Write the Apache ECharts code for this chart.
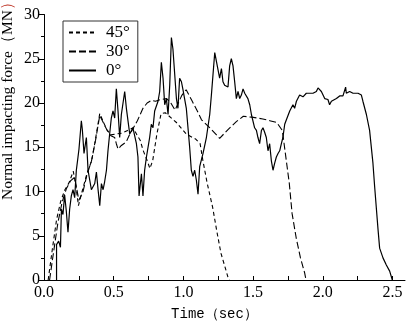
<!DOCTYPE html>
<html>
<head>
<meta charset="utf-8">
<script src="https://cdn.jsdelivr.net/npm/echarts@6/dist/echarts.min.js"></script>
<style>html,body{margin:0;padding:0;background:#fff}#c{width:406px;height:326px}</style>
</head>
<body>
<div id="c"></div>
<script>
// ---- data ----
const seriesNames = ['45°', '30°', '0°'];
const xTickLabels = [0, 0.5, 1.0, 1.5, 2.0, 2.5];
const xMinorTicks = [0, 0.25, 0.5, 0.75, 1.0, 1.25, 1.5, 1.75, 2.0, 2.25, 2.5];
const yTickLabels = [0, 5, 10, 15, 20, 25, 30];

const t45 = [0.03,0.06,0.09,0.12,0.15,0.18,0.21,0.23,0.247,0.27,0.306,0.342,0.364,0.40,0.45,0.48,0.52,0.56,0.60,0.64,0.67,0.69,0.71,0.74,0.76,0.78,0.81,0.84,0.87,0.95,1.02,1.09,1.12,1.14,1.17,1.21,1.24,1.27,1.30,1.32,1.33];
const f45 = [0,3.5,6.8,8.9,10.2,11.0,12.3,10.5,8.4,9.8,11.9,13.5,15.4,18.8,17.0,16.4,16.5,16.6,16.9,17.2,16.3,15.8,14.7,13.5,12.6,13.5,16.5,18.8,18.9,17.8,16.5,15.9,15.4,13.5,11.0,8.2,5.5,3.0,1.4,0.3,0];

const t30 = [0.04,0.07,0.10,0.13,0.16,0.19,0.22,0.25,0.28,0.31,0.34,0.37,0.40,0.45,0.48,0.507,0.519,0.531,0.555,0.567,0.59,0.61,0.67,0.71,0.74,0.77,0.80,0.84,0.88,0.91,0.94,0.99,1.02,1.06,1.10,1.13,1.19,1.26,1.32,1.38,1.43,1.49,1.57,1.62,1.67,1.71,1.73,1.76,1.78,1.81,1.84,1.87,1.88];
const f30 = [0,3.3,6.5,8.8,10.3,11.2,11.6,9.0,10.0,12.0,13.4,15.8,18.6,17.0,16.3,16.1,15.4,14.8,15.2,15.0,15.6,16.3,18.0,19.4,20.0,20.3,20.2,20.4,20.5,20.0,19.2,20.9,21.5,20.3,19.1,18.1,17.2,16.0,17.0,17.9,18.5,18.4,18.2,18.0,17.8,16.9,14.5,10.9,7.5,4.7,2.5,0.8,0];

const t0 = [0.09,0.09,0.105,0.118,0.125,0.136,0.148,0.16,0.172,0.184,0.196,0.208,0.22,0.232,0.244,0.251,0.268,0.275,0.287,0.304,0.316,0.328,0.340,0.352,0.364,0.376,0.388,0.40,0.412,0.424,0.435,0.448,0.459,0.471,0.483,0.495,0.507,0.519,0.531,0.543,0.555,0.579,0.591,0.615,0.638,0.663,0.674,0.682,0.699,0.710,0.722,0.735,0.758,0.770,0.782,0.794,0.818,0.830,0.842,0.854,0.866,0.878,0.890,0.902,0.914,0.925,0.950,0.961,0.973,0.986,0.997,1.021,1.033,1.045,1.057,1.069,1.081,1.093,1.105,1.117,1.141,1.165,1.189,1.201,1.212,1.225,1.237,1.260,1.273,1.284,1.296,1.320,1.332,1.344,1.356,1.368,1.380,1.392,1.404,1.416,1.428,1.440,1.452,1.463,1.476,1.488,1.511,1.524,1.535,1.547,1.560,1.571,1.583,1.595,1.607,1.619,1.631,1.643,1.655,1.667,1.679,1.691,1.703,1.714,1.727,1.739,1.763,1.786,1.798,1.811,1.834,1.858,1.882,1.930,1.954,1.966,1.990,2.014,2.037,2.049,2.062,2.098,2.121,2.145,2.157,2.164,2.169,2.193,2.217,2.253,2.265,2.277,2.288,2.313,2.336,2.360,2.372,2.385,2.396,2.408,2.432,2.456,2.480,2.499];
const f0 = [0,4.0,4.4,3.7,8.0,7.4,9.6,7.8,5.4,8.0,9.5,10.2,9.3,12.4,13.9,14.8,18.0,17.0,14.3,16.1,12.4,11.3,10.2,10.4,10.9,12.2,10.2,8.4,10.9,10.2,11.1,12.4,14.6,16.5,18.3,19.1,18.3,21.6,19.1,16.1,18.7,21.3,19.4,16.5,17.2,15.4,13.9,9.5,12.0,9.5,12.4,13.9,16.1,17.6,17.2,19.1,20.2,21.3,24.6,22.8,19.8,20.5,18.7,22.0,27.4,26.1,20.5,19.4,22.8,22.4,21.5,19.4,17.2,15.0,12.4,11.7,12.4,11.3,9.7,12.8,14.3,16.1,18.7,20.9,21.1,25.7,25.5,22.8,23.9,22.4,22.0,21.8,24.2,25.0,24.2,22.4,20.5,21.3,20.5,20.9,21.6,21.1,20.9,20.5,19.8,18.7,17.2,16.9,16.1,15.4,16.9,17.2,16.7,16.1,14.6,15.4,13.5,12.4,13.2,13.9,14.3,14.6,15.4,16.1,17.6,18.1,19.1,19.8,19.4,20.2,20.9,20.7,21.1,21.1,21.3,21.7,21.3,20.5,20.4,19.8,20.2,20.5,20.8,20.8,20.9,21.8,21.1,21.3,21.1,21.1,21.3,20.9,20.2,18.7,16.9,13.2,10.6,8.0,5.8,3.6,2.5,1.7,1.0,0];

function pairs(t, f) { return t.map((v, i) => [v, f[i]]); }

const serif = 'Liberation Serif';
const chart = echarts.init(document.getElementById('c'), null, {renderer: 'canvas'});
chart.setOption({
  animation: false,
  backgroundColor: '#fff',
  textStyle: {fontFamily: serif},
  grid: {left: 44, top: 14.5, width: 361, height: 271, containLabel: false},
  legend: {
    orient: 'vertical', left: 63, top: 21,
    data: seriesNames,
    itemWidth: 27, itemHeight: 14, itemGap: 2,
    padding: [3, 8, 3, 5],
    borderColor: '#333', borderWidth: 1,
    itemStyle: {opacity: 0, borderWidth: 0},
    textStyle: {fontFamily: serif, fontSize: 17, lineHeight: 15, color: '#000', padding: [0, 0, 0, 5]}
  },
  xAxis: {
    type: 'value', min: 0, max: 2.59,
    axisLine: {show: true, onZero: false, lineStyle: {color: '#000', width: 1}},
    axisTick: {show: true, inside: true, length: 4, customValues: xMinorTicks, lineStyle: {color: '#000'}},
    axisLabel: {customValues: xTickLabels, formatter: v => Number(v).toFixed(1), fontFamily: serif, fontSize: 16, color: '#000', margin: 5},
    splitLine: {show: false},
    name: 'Time（sec）', nameLocation: 'middle', nameGap: 27,
    nameTextStyle: {fontFamily: 'Liberation Mono', fontSize: 14, color: '#000', padding: [0, 20, 0, 0]}
  },
  yAxis: {
    type: 'value', min: 0, max: 30, interval: 5,
    axisLine: {show: true, lineStyle: {color: '#000', width: 1}},
    axisTick: {show: true, inside: false, length: 5, lineStyle: {color: '#000'}},
    minorTick: {show: true, splitNumber: 2, length: 3, lineStyle: {color: '#000'}},
    axisLabel: {formatter: v => String(v), fontFamily: serif, fontSize: 16, color: '#000', margin: 4},
    splitLine: {show: false}
  },
  graphic: [{
    type: 'text', x: 8, y: 97, rotation: Math.PI / 2,
    style: {
      text: 'Normal impacting force（MN{r|）}',
      font: '15.5px Liberation Serif', fill: '#000',
      align: 'center', verticalAlign: 'middle',
      rich: {r: {fill: '#c0392b', font: '15.5px Liberation Serif'}}
    }
  }],
  series: [
    {name: seriesNames[0], type: 'line', data: pairs(t45, f45), symbol: 'none', lineStyle: {color: '#000', width: 1.1, type: [4, 3]}, itemStyle: {color: '#000'}},
    {name: seriesNames[1], type: 'line', data: pairs(t30, f30), symbol: 'none', lineStyle: {color: '#000', width: 1.1, type: [7, 3]}, itemStyle: {color: '#000'}},
    {name: seriesNames[2], type: 'line', data: pairs(t0, f0), symbol: 'none', lineStyle: {color: '#000', width: 1.2, type: 'solid'}, itemStyle: {color: '#000'}}
  ]
});
</script>
</body>
</html>
